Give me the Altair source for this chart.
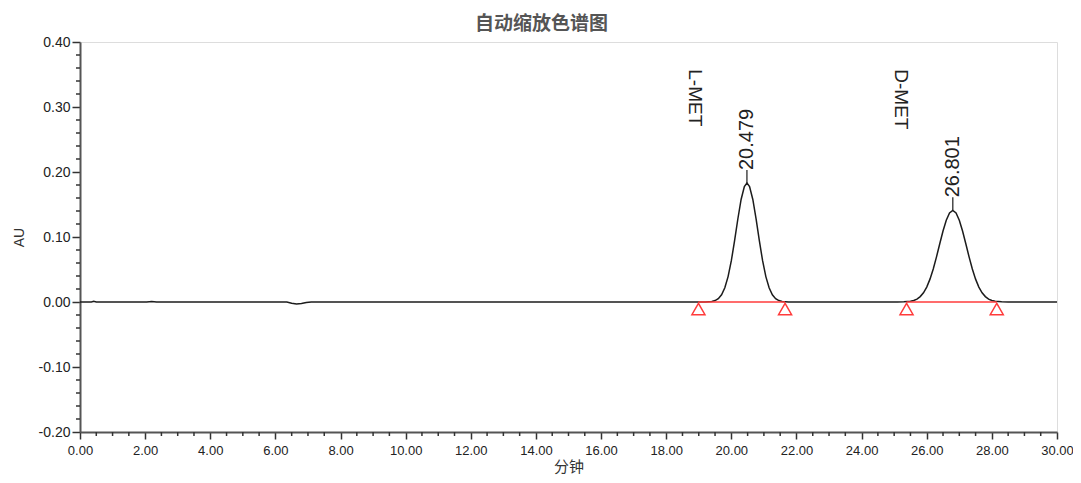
import altair as alt
import pandas as pd

# ---- chromatogram trace (minutes, AU) ----
trace_t = [0.00, 0.35, 0.42, 0.50, 2.05, 2.20, 2.35, 6.35, 6.50, 6.65, 6.80, 6.95, 7.10,
           18.70, 19.00, 19.20, 19.40, 19.50, 19.60, 19.70, 19.80, 19.90, 20.00, 20.10,
           20.20, 20.30, 20.40, 20.48, 20.56, 20.66, 20.76, 20.86, 20.96, 21.06, 21.16,
           21.26, 21.36, 21.46, 21.56, 21.76, 22.00, 25.10, 25.30, 25.50, 25.60, 25.70,
           25.80, 25.90, 26.00, 26.10, 26.20, 26.30, 26.40, 26.50, 26.60, 26.70, 26.80,
           26.90, 27.00, 27.10, 27.20, 27.30, 27.40, 27.50, 27.60, 27.70, 27.80, 27.90,
           28.00, 28.10, 28.30, 28.50, 30.00]
trace_au = [0.0000, 0.0000, 0.0010, 0.0000, 0.0000, 0.0008, 0.0000, 0.0000, -0.0020, -0.0030,
            -0.0022, -0.0008, 0.0000,
            0.0000, 0.0000, 0.0001, 0.0009, 0.0022, 0.0052, 0.0112, 0.0219, 0.0391, 0.0635,
            0.0943, 0.1277, 0.1577, 0.1777, 0.1830, 0.1777, 0.1577, 0.1277, 0.0943, 0.0635,
            0.0391, 0.0219, 0.0112, 0.0052, 0.0022, 0.0009, 0.0001, 0.0000,
            0.0000, 0.0002, 0.0012, 0.0024, 0.0045, 0.0083, 0.0142, 0.0230, 0.0352, 0.0508,
            0.0694, 0.0896, 0.1093, 0.1259, 0.1371, 0.1410, 0.1371, 0.1259, 0.1093, 0.0896,
            0.0694, 0.0508, 0.0352, 0.0230, 0.0142, 0.0083, 0.0045, 0.0024, 0.0012, 0.0002,
            0.0000, 0.0000]

# ---- peaks ----
peak_names = ["L-MET", "D-MET"]
peak_rt = [20.479, 26.801]
peak_height = [0.183, 0.141]
peak_start = [18.99, 25.38]
peak_end = [21.65, 28.15]

# ---- axis ticks ----
x_major = [0, 2, 4, 6, 8, 10, 12, 14, 16, 18, 20, 22, 24, 26, 28, 30]
y_major = [-0.2, -0.1, 0.0, 0.1, 0.2, 0.3, 0.4]
x_minor = [m + k * 0.5 for m in x_major[:-1] for k in (1, 2, 3)]
y_minor = [round(m + k * 0.02, 2) for m in y_major[:-1] for k in (1, 2, 3, 4)]

trace = pd.DataFrame({"t": trace_t, "au": trace_au})
peaks = pd.DataFrame({
    "name": peak_names,
    "rt": peak_rt,
    "h": peak_height,
    "start": peak_start,
    "end": peak_end,
})
peaks["rt_label"] = [f"{v:.3f}" for v in peak_rt]
peaks["htop"] = peaks["h"] + 0.02
peaks["name_x"] = peaks["rt"] - 1.6
peaks["name_y"] = 0.358
peaks["zero"] = 0.0
marks = pd.DataFrame({"t": peak_start + peak_end, "zero": [0.0] * 4})
xminor_df = pd.DataFrame({"v": x_minor})
yminor_df = pd.DataFrame({"v": y_minor})

RED = "#ff3b3b"
FONT = "Liberation Sans"
INK = "#333333"
W, H = 977, 390

x_scale = alt.Scale(domain=[0, 30], nice=False, zero=False)
y_scale = alt.Scale(domain=[-0.2, 0.4], nice=False, zero=False)

x_axis = alt.Axis(
    values=x_major, format=".2f", title="分钟", titleFont="Noto Sans CJK SC",
    titleFontSize=15, titleFontWeight="normal", titleColor=INK, titlePadding=2,
    labelFont=FONT, labelFontSize=13, labelColor="#222", labelPadding=5,
    labelFlush=False, labelOverlap=False,
    tickSize=7, tickColor=INK, tickWidth=1.5, domainColor="#555", domainWidth=2,
    grid=False,
)
y_axis = alt.Axis(
    values=y_major, title="AU", titleFont=FONT, titleFontSize=14,
    titleFontWeight="normal", titleColor=INK, titlePadding=12,
    labelExpr="replace(format(datum.value, '.2f'), '\u2212', '-')",
    labelFont=FONT, labelFontSize=14, labelColor="#222", labelPadding=2,
    labelOverlap=False,
    tickSize=8, tickColor=INK, tickWidth=1.5, domainColor="#555", domainWidth=2,
    grid=False,
)


def X(field):
    return alt.X(field, type="quantitative", scale=x_scale, axis=x_axis)


def Y(field):
    return alt.Y(field, type="quantitative", scale=y_scale, axis=y_axis)


line = alt.Chart(trace).mark_line(color="#1c1c1c", strokeWidth=1.5).encode(
    x=X("t"), y=Y("au"),
)

x_minor_ticks = alt.Chart(xminor_df).mark_rule(color=INK, strokeWidth=1.5).encode(
    x=X("v"), y=alt.value(H), y2=alt.value(H + 4),
)
y_minor_ticks = alt.Chart(yminor_df).mark_rule(color=INK, strokeWidth=1.5).encode(
    y=Y("v"), x=alt.value(0), x2=alt.value(-4),
)

base_rules = alt.Chart(peaks).mark_rule(color=RED, strokeWidth=1.4).encode(
    x=X("start"), x2="end:Q", y=Y("zero"),
)

tri = alt.Chart(marks).mark_point(
    shape="triangle-up", filled=False, color=RED, size=170, strokeWidth=1.5,
    yOffset=7, opacity=1,
).encode(x=X("t"), y=Y("zero"))

apex = alt.Chart(peaks).mark_rule(color="#1c1c1c", strokeWidth=1.2).encode(
    x=X("rt"), y=Y("h"), y2="htop:Q",
)

rt_text = alt.Chart(peaks).mark_text(
    angle=270, align="left", baseline="middle", yOffset=-13,
    font=FONT, fontSize=20, color="#222",
).encode(x=X("rt"), y=Y("h"), text="rt_label:N")

name_text = alt.Chart(peaks).mark_text(
    angle=90, align="left", baseline="middle",
    font=FONT, fontSize=19, color="#222",
).encode(x=X("name_x"), y=Y("name_y"), text="name:N")

chart = alt.layer(
    line, x_minor_ticks, y_minor_ticks, base_rules, tri, apex, rt_text, name_text
).properties(
    width=W,
    height=H,
    title=alt.TitleParams(
        "自动缩放色谱图", font="Noto Sans CJK SC", fontSize=19, fontWeight="bold",
        color="#555", anchor="middle", dx=-27, offset=1,
    ),
    autosize=alt.AutoSizeParams(type="none"),
    padding={"left": 72, "top": 34, "right": 16, "bottom": 43},
).configure_view(stroke="#6a6a6a", strokeWidth=2).configure(background="white")

chart.save("out.html", embed_options={"renderer": "svg", "actions": False})
